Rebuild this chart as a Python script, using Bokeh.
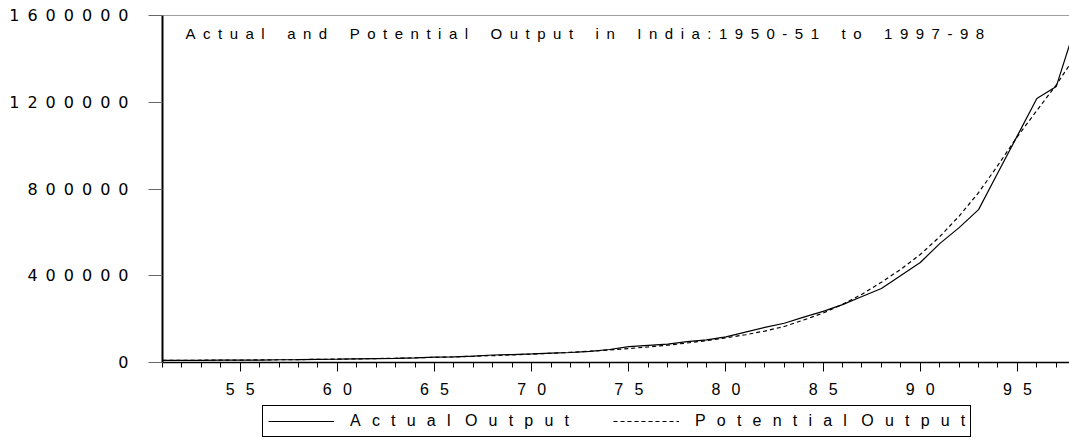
from bokeh.plotting import figure
from bokeh.layouts import column
from bokeh.models import FixedTicker, Range1d, Legend, LegendItem, Label, Span
from bokeh.embed import file_html
from bokeh.resources import INLINE

# ---------------- data ----------------
years = list(range(1951, 1999))
actual_output = [
    10000, 10300, 10200, 11000, 10600, 10800, 12600, 13300, 14800, 15500,
    17000, 18000, 19200, 21600, 25000, 26000, 29500, 34500, 36500, 39500,
    43000, 46000, 51000, 60000, 73000, 79000, 85000, 96000, 104000, 118000,
    140000, 162000, 181000, 209000, 236000, 267000, 304000, 341000, 401000, 461000,
    548000, 622000, 705000, 876000, 1046000, 1217000, 1273000, 1555000,
]
potential_output = [
    9500, 10000, 10500, 10900, 11300, 11900, 12600, 13400, 14400, 15500,
    16700, 18100, 19700, 21600, 23700, 26000, 28700, 31700, 35000, 38600,
    42600, 47000, 52000, 58000, 64500, 72000, 80000, 90000, 101000, 114000,
    128000, 145000, 166000, 196000, 228000, 268000, 315000, 370000, 430000, 498000,
    580000, 675000, 783000, 910000, 1042000, 1162000, 1280000, 1415000,
]
x_ticks = [1955, 1960, 1965, 1970, 1975, 1980, 1985, 1990, 1995]
x_tick_labels = ["55", "60", "65", "70", "75", "80", "85", "90", "95"]
y_ticks = [0, 400000, 800000, 1200000, 1600000]
y_tick_labels = ["0", "400000", "800000", "1200000", "1600000"]
title_text = "Actual and Potential Output in India:1950-51 to 1997-98"
series_names = ["Actual Output", "Potential Output"]


def spaced(s, gap, word_gap):
    return word_gap.join(gap.join(w) for w in s.split(" "))


SOLID = dict(line_color="black", line_width=1.2)
DASHED = dict(line_color="black", line_width=1.2, line_dash="4 3")

# ---------------- main figure ----------------
p = figure(
    frame_width=907, frame_height=347, output_backend="svg", toolbar_location=None,
    x_range=Range1d(1951, 1997.68), y_range=Range1d(0, 1600000),
    min_border_left=162, min_border_right=0, min_border_top=15, min_border_bottom=38,
    background_fill_color="white", border_fill_color="white",
)
p.outline_line_color = None
p.xgrid.visible = False
p.ygrid.visible = False

p.line(years, actual_output, **SOLID)
p.line(years, potential_output, **DASHED)

# top border line
p.add_layout(Span(location=y_ticks[-1], dimension="width", line_color="#444444", line_width=1))

# y axis
ya = p.yaxis[0]
ya.ticker = FixedTicker(ticks=y_ticks, minor_ticks=[])
ya.major_label_overrides = {t: spaced(l, "\u2002", "\u2002") for t, l in zip(y_ticks, y_tick_labels)}
ya.major_label_text_font = "DejaVu Sans"
ya.major_label_text_font_size = "16px"
ya.major_label_text_color = "black"
ya.major_label_standoff = 20
ya.major_tick_out = 14
ya.major_tick_in = 0
ya.major_tick_line_color = "#666666"
ya.minor_tick_line_color = None
ya.axis_line_color = "black"
ya.axis_line_width = 2

# x axis
xa = p.xaxis[0]
xa.ticker = FixedTicker(ticks=x_ticks, minor_ticks=years)
xa.major_label_overrides = {t: spaced(l, "\u2002\u2009", "\u2002") for t, l in zip(x_ticks, x_tick_labels)}
xa.major_label_text_font = "Liberation Sans"
xa.major_label_text_font_size = "16px"
xa.major_label_text_color = "black"
xa.major_label_standoff = 9
xa.major_tick_out = 9
xa.major_tick_in = 0
xa.minor_tick_out = 5
xa.minor_tick_in = 0
xa.major_tick_line_color = "black"
xa.minor_tick_line_color = "black"
xa.axis_line_color = "black"
xa.axis_line_width = 1.5

# title inside the frame
p.add_layout(Label(
    x=23, y=329, x_units="screen", y_units="screen",
    text=spaced(title_text, "\u2002", "\u2003\u2002"),
    text_font="Liberation Sans", text_font_size="15px", text_color="black",
    text_baseline="middle", text_align="left",
))

# ---------------- legend strip below ----------------
# the same series are drawn here outside the visible range, only so that
# the legend has renderers of its own to draw its keys from
leg = figure(
    frame_width=1069, frame_height=43, output_backend="svg", toolbar_location=None,
    x_range=Range1d(0, 1), y_range=Range1d(0, 1),
    x_axis_location=None, y_axis_location=None, min_border=0,
    background_fill_color="white", border_fill_color="white",
)
leg.outline_line_color = None
leg.xgrid.visible = False
leg.ygrid.visible = False
k1 = leg.line(years, actual_output, **SOLID)
k2 = leg.line(years, potential_output, **DASHED)

legend = Legend(
    items=[
        LegendItem(label=spaced(series_names[0], "\u2002\u2009", "\u2002\u2009\u2009"), renderers=[k1]),
        LegendItem(label=spaced(series_names[1], "\u2002\u2009", "\u2002\u2009\u2009"), renderers=[k2]),
    ],
    orientation="horizontal", location=(262, 6),
    border_line_color="black", border_line_width=1, border_line_alpha=1,
    background_fill_color="white", background_fill_alpha=1,
    padding=5, spacing=44, margin=0,
    glyph_width=66, glyph_height=20, label_height=20, label_standoff=16,
    label_text_font="Liberation Sans", label_text_font_size="16px", label_text_color="black",
)
leg.add_layout(legend)

layout = column(p, leg, spacing=0)
open("out.html", "w").write(file_html(layout, INLINE))
